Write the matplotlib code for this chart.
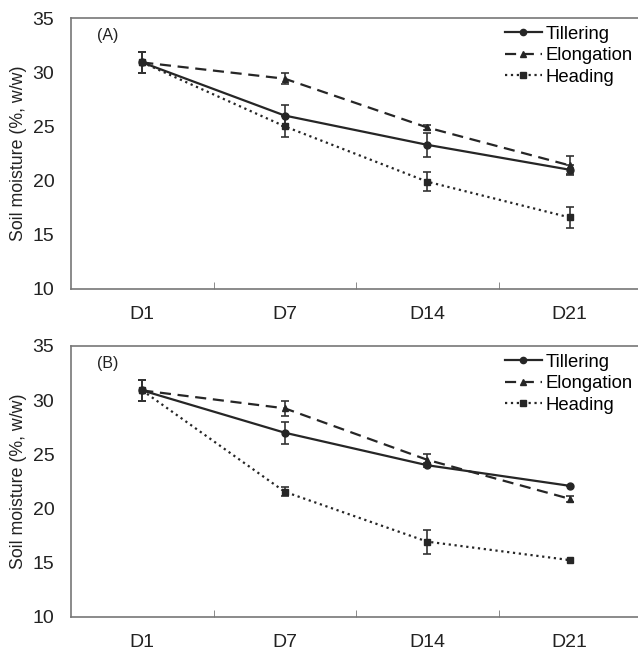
import matplotlib
matplotlib.use('Agg')
import matplotlib.pyplot as plt
from matplotlib.lines import Line2D
import numpy as np

plt.rcParams['font.family'] = ['Liberation Sans', 'DejaVu Sans']

days = ['D1', 'D7', 'D14', 'D21']
series = ['Tillering', 'Elongation', 'Heading']

# panel A
a_till = [30.9, 26.0, 23.3, 21.0]
a_till_err = [1.0, 1.0, 1.1, 0.4]
a_elong = [30.9, 29.4, 24.9, 21.4]
a_elong_err = [1.0, 0.5, 0.2, 0.9]
a_head = [30.9, 25.0, 19.9, 16.6]
a_head_err = [1.0, 1.0, 0.85, 1.0]

# panel B
b_till = [30.9, 27.0, 24.0, 22.1]
b_till_err = [1.0, 1.0, 0.2, 0.0]
b_elong = [30.9, 29.25, 24.5, 20.9]
b_elong_err = [1.0, 0.7, 0.5, 0.3]
b_head = [30.9, 21.55, 16.95, 15.25]
b_head_err = [1.0, 0.4, 1.1, 0.0]

col = '#262626'
styles = [('-', 'o', 5), ((0, (5, 3)), '^', 5), (':', 's', 4.5)]


def draw_panel(ax, data, errs, tag):
    x = np.arange(len(days))
    handles = []
    for (ls, mk, ms), y, e, name in zip(styles, data, errs, series):
        ax.errorbar(x, y, yerr=e, color=col, ls=ls, lw=1.6, marker=mk, ms=ms,
                    ecolor='#333333', elinewidth=1.2, capsize=3, capthick=1.2)
        handles.append(Line2D([], [], color=col, ls=ls, lw=1.6, marker=mk,
                              ms=ms - 0.5, label=name))
    ax.set_xlim(-0.5, 3.5)
    ax.set_ylim(10, 35)
    ax.set_yticks(range(10, 36, 5))
    ax.set_xticks(x)
    ax.set_xticklabels(days)
    ax.set_xticks([0.5, 1.5, 2.5], minor=True)
    ax.tick_params(axis='x', which='major', length=0, labelsize=14, pad=12,
                   colors='#222222')
    ax.tick_params(axis='x', which='minor', direction='in', length=5,
                   color='#777777')
    ax.tick_params(axis='y', length=0, labelsize=14, pad=12, colors='#222222')
    for s in ['left', 'bottom', 'top']:
        ax.spines[s].set_color('#777777')
        ax.spines[s].set_linewidth(1.2)
    ax.spines['right'].set_visible(False)
    ax.set_ylabel('Soil moisture (%, w/w)', fontsize=12.8, color='#222222',
                  labelpad=4)
    ax.text(0.045, 0.935, tag, transform=ax.transAxes, fontsize=11.5,
            color='#222222', va='center')
    ax.legend(handles=handles, loc='upper right', bbox_to_anchor=(1.008, 1.02),
              frameon=False, fontsize=13.3, handlelength=2.0,
              handletextpad=0.2, labelspacing=0.25, borderaxespad=0.3)


fig = plt.figure(figsize=(6.38, 6.5), dpi=100)
ax1 = fig.add_axes([0.1113, 0.5554, 0.8934, 0.4169])
ax2 = fig.add_axes([0.1113, 0.0508, 0.8934, 0.4169])

draw_panel(ax1, [a_till, a_elong, a_head], [a_till_err, a_elong_err, a_head_err], '(A)')
draw_panel(ax2, [b_till, b_elong, b_head], [b_till_err, b_elong_err, b_head_err], '(B)')

fig.savefig('out.png', dpi=100)
